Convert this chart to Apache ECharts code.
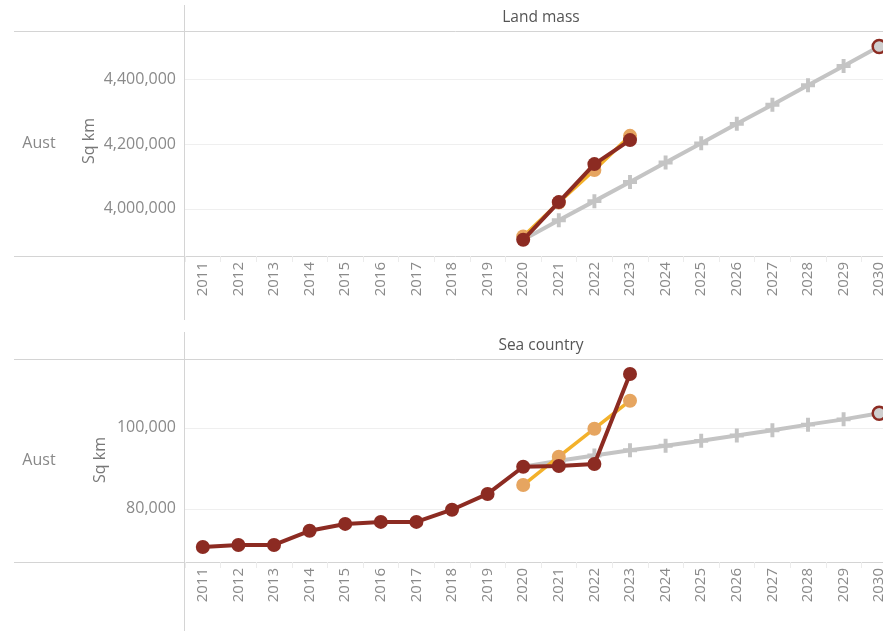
<!DOCTYPE html>
<html>
<head>
<meta charset="utf-8">
<script src="https://cdn.jsdelivr.net/npm/echarts@6/dist/echarts.min.js"></script>
<style>
html,body{margin:0;padding:0;background:#fff;overflow:hidden;width:883px;height:631px;}
#c{width:897px;height:631px;}
</style>
</head>
<body>
<div id="c"></div>
<script>
// ---- data ----
var years = ['2011','2012','2013','2014','2015','2016','2017','2018','2019','2020',
             '2021','2022','2023','2024','2025','2026','2027','2028','2029','2030'];
var panelTitles = ['Land mass', 'Sea country'];
var rowLabel = 'Aust';
var axisTitle = 'Sq km';

// Land mass
var landActual  = [null,null,null,null,null,null,null,null,null,3905000,4021000,4138000,4212000,null,null,null,null,null,null,null];
var landOther   = [null,null,null,null,null,null,null,null,null,3915000,4020000,4120000,4225000,null,null,null,null,null,null,null];
var landTarget  = [null,null,null,null,null,null,null,null,null,3905000,3965000,4024000,4083000,4143000,4202000,4262000,4321000,4381000,4440000,4500000];
var landTicks   = [4000000, 4200000, 4400000];

// Sea country
var seaActual   = [70600,71100,71100,74600,76300,76800,76800,79800,83700,90400,90600,91100,113300,null,null,null,null,null,null,null];
var seaOther    = [null,null,null,null,null,null,null,null,null,85900,92900,99800,106700,null,null,null,null,null,null,null];
var seaTarget   = [null,null,null,null,null,null,null,null,null,90400,91900,93200,94500,95600,96800,98100,99400,100800,102100,103600];
var seaTicks    = [80000, 100000];

// ---- styling ----
var DARK = '#8c2b22', ORANGE_LINE = '#f3b12a', ORANGE_PT = '#e6a560', GREY = '#c4c4c4';
var LINEC = '#d4d4d4', TXT = '#8a8a8a';
var FONT = '"Open Sans"';
var plus = 'path://M3.6,0h2.8v10h-2.8z M0,3.6h10v2.8h-10z';

function targetData(arr){
  var last = -1;
  arr.forEach(function(v,i){ if(v!=null) last=i; });
  var first = arr.findIndex(function(v){return v!=null;});
  return arr.map(function(v,i){
    if(v==null) return null;
    if(i===last) return {value:v, symbol:'circle', symbolSize:13,
      itemStyle:{color:'#cfcfcf', borderColor:DARK, borderWidth:2.5}};
    if(i===first) return {value:v, symbol:'none'};
    return v;
  });
}

function fmt(v){ return Math.round(v).toLocaleString('en-US'); }

var grids = [
  {left:185, top:31, right:0, height:225},
  {left:185, top:359, right:0, height:203}
];

var xAxes = [0,1].map(function(i){
  return {
    type:'category', gridIndex:i, data:years, boundaryGap:true,
    axisLine:{show:false},
    axisTick:{show:true, length:6, lineStyle:{color:'#ececec'}},
    axisLabel:{rotate:90, color:TXT, fontSize:15, margin:6, fontFamily:FONT}
  };
});

var yAxes = [
  {type:'value', gridIndex:0, min:3855000, max:4548000,
   axisLine:{show:false}, axisTick:{show:false, customValues:landTicks},
   axisLabel:{customValues:landTicks, formatter:fmt, color:TXT, fontSize:16, margin:9, fontFamily:FONT},
   splitLine:{show:true, lineStyle:{color:'#efefef'}}},
  {type:'value', gridIndex:1, min:66900, max:117000,
   axisLine:{show:false}, axisTick:{show:false, customValues:seaTicks},
   axisLabel:{customValues:seaTicks, formatter:fmt, color:TXT, fontSize:16, margin:9, fontFamily:FONT},
   splitLine:{show:true, lineStyle:{color:'#efefef'}}}
];

function lineSeries(idx, data, color, ptColor, width, symbol, size, z){
  return {
    type:'line', xAxisIndex:idx, yAxisIndex:idx, data:data, z:z,
    symbol:symbol, symbolSize:size, showAllSymbol:true, clip:false,
    connectNulls:false, animation:false,
    lineStyle:{color:color, width:width},
    itemStyle:{color:ptColor, opacity:1}
  };
}

var series = [
  lineSeries(0, targetData(landTarget), GREY, GREY, 4, plus, 14, 2),
  lineSeries(0, landOther, ORANGE_LINE, ORANGE_PT, 3.5, 'circle', 14, 3),
  lineSeries(0, landActual, DARK, DARK, 4, 'circle', 14, 4),
  lineSeries(1, targetData(seaTarget), GREY, GREY, 4, plus, 14, 2),
  lineSeries(1, seaOther, ORANGE_LINE, ORANGE_PT, 3.5, 'circle', 14, 3),
  lineSeries(1, seaActual, DARK, DARK, 4, 'circle', 14, 4)
];

function hline(y, x1, x2){ return {type:'line', z:0, shape:{x1:x1,y1:y,x2:x2,y2:y}, style:{stroke:LINEC, lineWidth:1}}; }
function vline(x, y1, y2){ return {type:'line', z:0, shape:{x1:x,y1:y1,x2:x,y2:y2}, style:{stroke:LINEC, lineWidth:1}}; }
function txt(t, x, y, size, color, rot){
  return {type:'text', z:10, x:x, y:y, rotation:rot||0,
    style:{text:t, fill:color, font:size+'px '+FONT, textAlign:'center', textVerticalAlign:'middle'}};
}

var graphic = [
  vline(184.5, 5, 320), vline(184.5, 332, 631),
  hline(31.5, 14, 897), hline(256.5, 14, 897),
  hline(359.5, 14, 897), hline(562.5, 14, 897),
  txt(panelTitles[0], 541, 18, 15.5, '#555'),
  txt(panelTitles[1], 541, 346, 15.5, '#555'),
  txt(rowLabel, 39, 143, 16, '#888'),
  txt(rowLabel, 39, 460, 16, '#888'),
  txt(axisTitle, 89, 141, 16, '#777', Math.PI/2),
  txt(axisTitle, 100, 460, 16, '#777', Math.PI/2)
];

var chart = echarts.init(document.getElementById('c'), null, {renderer:'canvas'});
chart.setOption({
  animation:false,
  backgroundColor:'#fff',
  grid:grids, xAxis:xAxes, yAxis:yAxes, series:series, graphic:graphic
});
</script>
</body>
</html>
